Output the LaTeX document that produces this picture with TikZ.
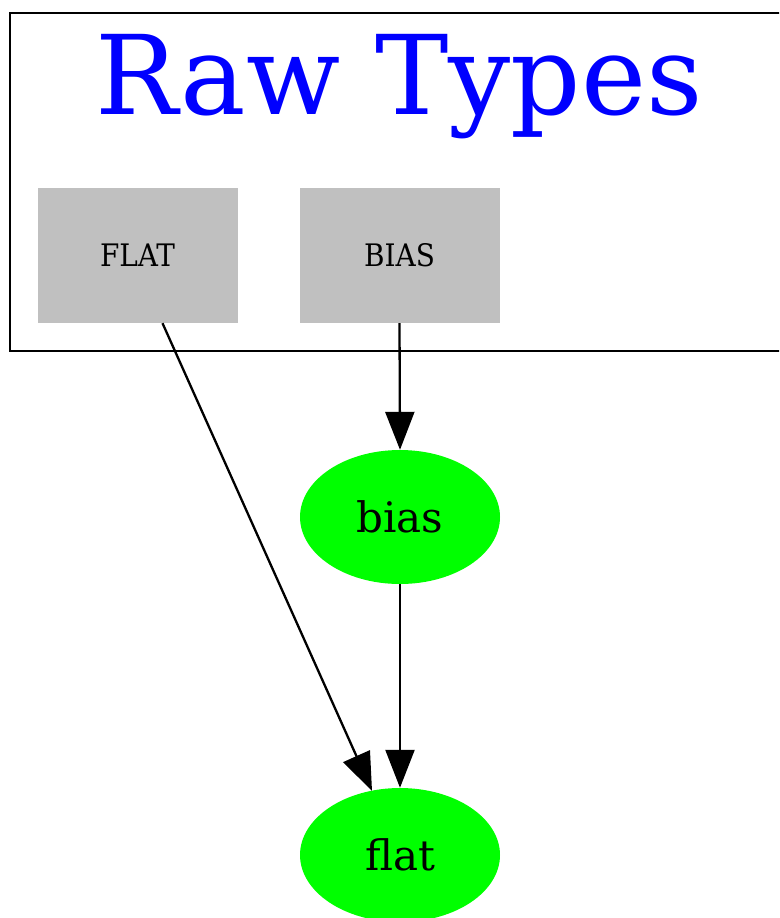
\documentclass[tikz,border=0pt]{standalone}
\usepackage{fontspec}
\setmainfont{DejaVu Serif}
\newfontfamily\condserif{DejaVu Serif Condensed}
\usetikzlibrary{arrows.meta,shapes.geometric}
\definecolor{boxgray}{HTML}{C0C0C0}
\definecolor{nodegreen}{HTML}{00FF00}
\definecolor{titleblue}{HTML}{0000FF}
\tikzset{
  rawbox/.style={rectangle,fill=boxgray,minimum width=200pt,minimum height=135pt,inner sep=0pt,font=\condserif\fontsize{31}{36}\selectfont},
  greennode/.style={ellipse,fill=nodegreen,minimum width=200pt,minimum height=134pt,inner sep=0pt,font=\fontsize{42}{48}\selectfont},
  edge/.style={line width=2.3pt,-{Triangle[length=38pt,width=29pt]}},
}
\begin{document}
\begin{tikzpicture}[x=1pt,y=-1pt]
  \useasboundingbox (0,0) rectangle (779,918);
  \clip (0,0) rectangle (779,918);
  % cluster frame
  \draw[line width=2.4pt] (10,13) rectangle (800,351);
  \node[text=titleblue,font=\fontsize{110}{126}\selectfont,anchor=base] (title) at (399,114) {Raw Types};
  % raw type boxes
  \node[rawbox] (FLAT) at (137.5,255.5) {FLAT};
  \node[rawbox] (BIAS) at (399.5,255.5) {BIAS};
  % converted nodes
  \node[greennode] (bias) at (400,517) {bias};
  \node[greennode] (flat) at (400,855) {flat};
  % edges
  \draw[edge] (BIAS.south) -- (bias.north);
  \draw[edge] (bias.south) -- (flat.north);
  \draw[edge] ([xshift=25pt]FLAT.south) -- ([xshift=-28pt,yshift=-3pt]flat.north);
\end{tikzpicture}
\end{document}
